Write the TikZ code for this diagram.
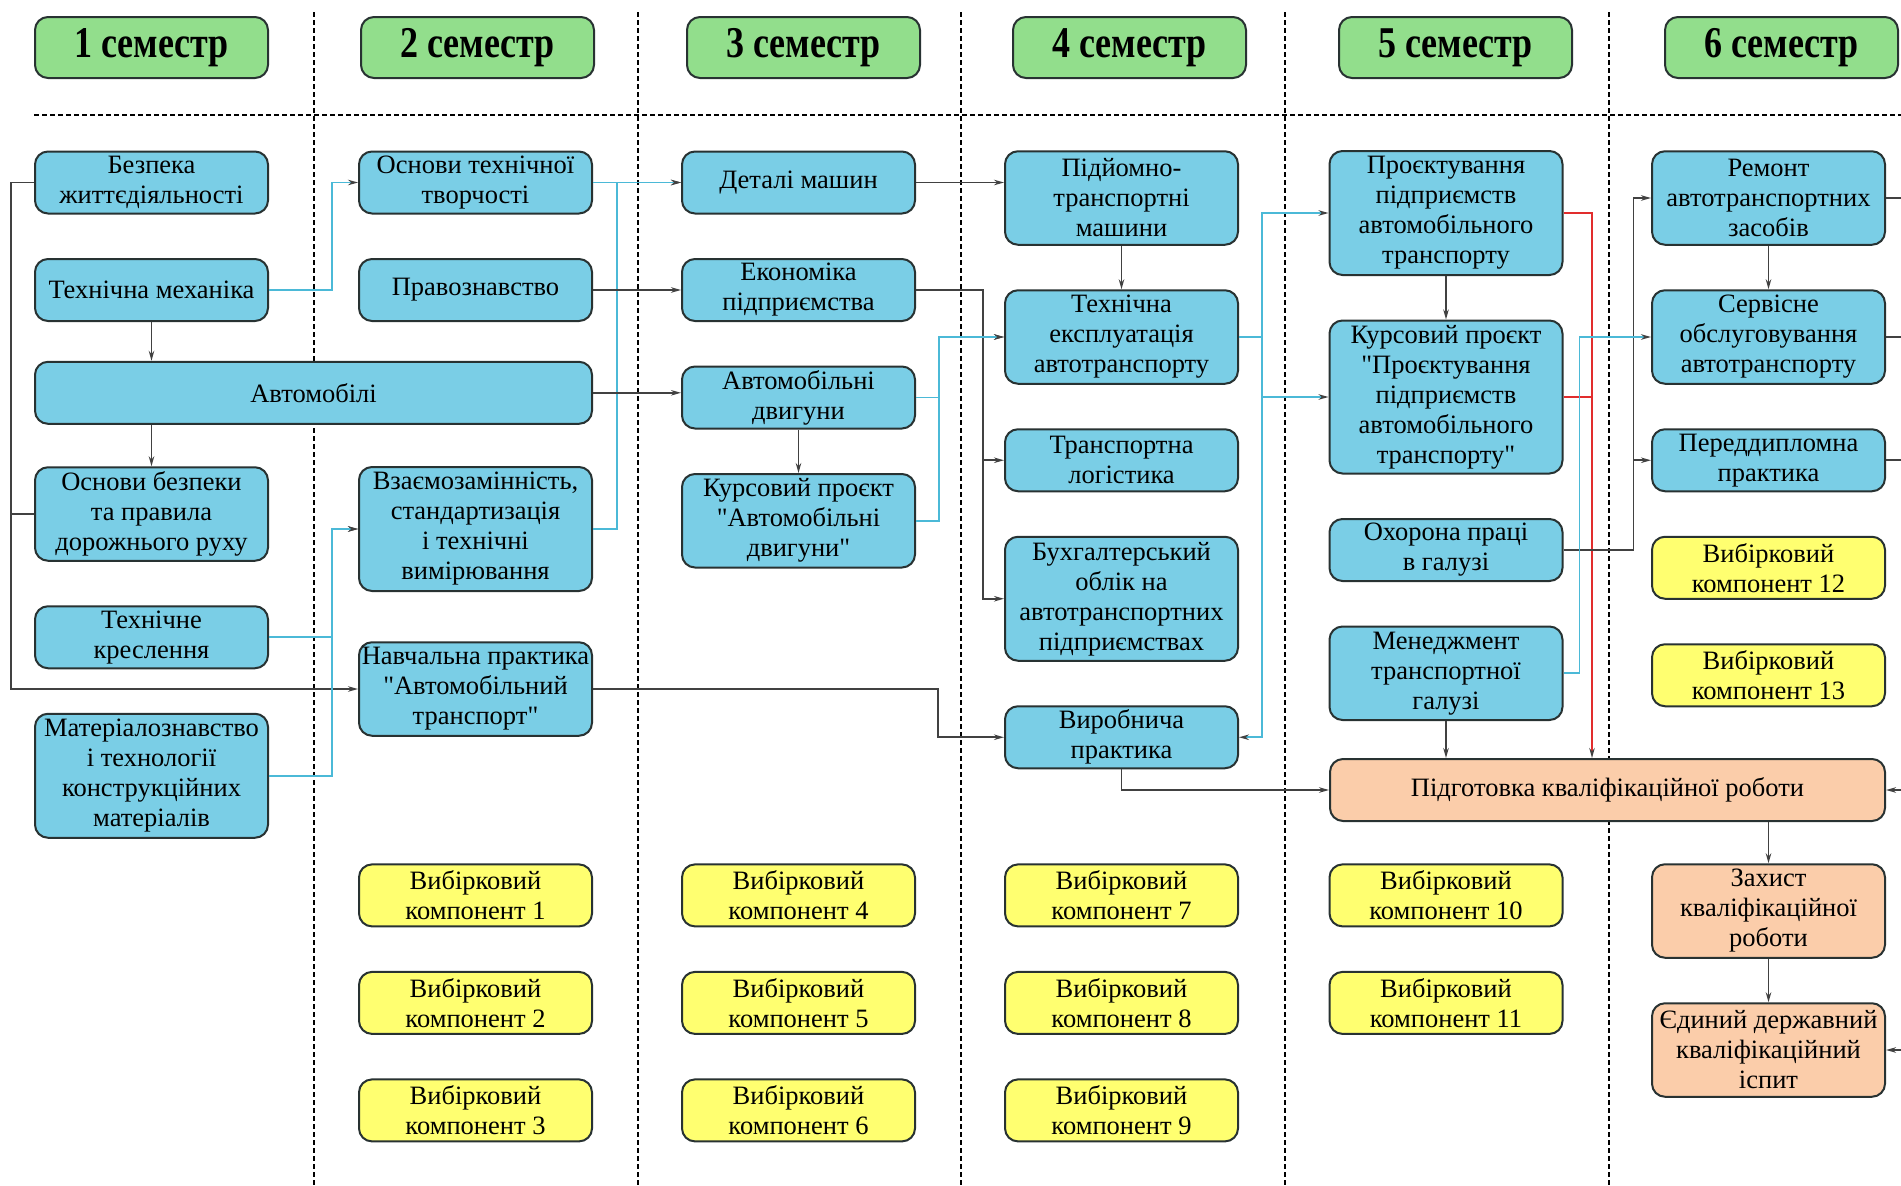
\documentclass[tikz,border=0pt]{standalone}
\usepackage{fontspec}
\setmainfont{Liberation Serif}[Ligatures=TeXOff]
\usepackage{graphicx}
\usetikzlibrary{arrows.meta,positioning}

\definecolor{subjblue}{RGB}{122,206,230}
\definecolor{semgreen}{RGB}{146,222,140}
\definecolor{electyellow}{RGB}{255,255,112}
\definecolor{finalorange}{RGB}{251,205,170}
\definecolor{boxline}{RGB}{40,50,50}
\definecolor{linkgray}{RGB}{65,65,65}
\definecolor{linkcyan}{RGB}{75,185,215}
\definecolor{linkred}{RGB}{225,45,45}

\newcommand{\semhead}[1]{\scalebox{1}[1.22]{#1 семестр}}

\begin{document}
\begin{tikzpicture}[
          x=1pt, y=-1pt,
          >={Stealth[length=10pt,width=5.5pt]},
          node distance=43.5pt and 91pt,
          box/.style={rounded corners=13pt, draw=boxline, line width=2pt,
            minimum width=233pt, minimum height=62pt, inner xsep=1pt, inner ysep=3pt,
            align=center, text=black, font=\fontsize{26.5}{30}\selectfont},
          subj/.style={box, fill=subjblue},
          elect/.style={box, fill=electyellow},
          final/.style={box, fill=finalorange},
          sem/.style={box, fill=semgreen, minimum height=61pt,
            font=\fontsize{36}{40}\selectfont\bfseries},
          tall3/.style={minimum height=93.5pt},
          tall4/.style={minimum height=124pt},
          tall5/.style={minimum height=153pt},
          wide/.style={minimum width=557pt},
          divider/.style={line width=2.4pt, dash pattern=on 5pt off 3pt},
          plainline/.style={draw=linkgray, line width=1.6pt},
          link/.style={plainline, ->},
          cyanlink/.style={draw=linkcyan, line width=1.6pt, ->,
            >={Stealth[length=10pt,width=5.5pt,color=linkgray]}},
          redline/.style={draw=linkred, line width=1.4pt},
          redlink/.style={redline, ->,
            >={Stealth[length=10pt,width=5.5pt,color=linkgray]}}
        ]

        \path[use as bounding box, fill=white] (0,0) rectangle (1901,1186);

        % Dividers between semesters
        \draw[divider] (34,115) -- (1901,115);
        \draw[divider] (314,12) -- (314,1186);
        \draw[divider] (638,12) -- (638,1186);
        \draw[divider] (961,12) -- (961,1186);
        \draw[divider] (1285,12) -- (1285,1186);
        \draw[divider] (1609,12) -- (1609,1186);

        % Semester headers
        \node[sem] (s1) at (151.5,47.5) {\semhead{1}};
        \node[sem, right=of s1] (s2) {\semhead{2}};
        \node[sem, right=of s2] (s3) {\semhead{3}};
        \node[sem, right=of s3] (s4) {\semhead{4}};
        \node[sem, right=of s4] (s5) {\semhead{5}};
        \node[sem, right=of s5] (s6) {\semhead{6}};

        % Semester 1
        \node[subj] (bzh) at (151.5,182.5) {Безпека\\життєдіяльності};
        \node[subj, below=of bzh] (tmech) {Технічна механіка};
        \node[subj, wide] (avto) at (313.5,392.8) {Автомобілі};
        \node[subj, tall3] (obdr) at (151.5,514) {Основи безпеки\\та правила\\дорожнього руху};
        \node[subj, below=of obdr] (tkres) {Технічне\\креслення};
        \node[subj, tall4, below=of tkres] (mater) {Матеріалознавство\\і технології\\конструкційних\\матеріалів};

        % Semester 2
        \node[subj] (otv) at (475.5,182.5) {Основи технічної\\творчості};
        \node[subj, below=of otv] (pravo) {Правознавство};
        \node[subj, tall4] (vzaem) at (475.5,529) {Взаємозамінність,\\стандартизація\\і технічні\\вимірювання};
        \node[subj, tall3] (navch) at (475.5,689) {Навчальна практика\\"Автомобільний\\транспорт"};
        \node[elect] (vk1) at (475.5,895.4) {Вибірковий\\компонент 1};
        \node[elect, below=of vk1] (vk2) {Вибірковий\\компонент 2};
        \node[elect, below=of vk2] (vk3) {Вибірковий\\компонент 3};

        % Semester 3
        \node[subj] (detal) at (798.5,182.5) {Деталі машин};
        \node[subj, below=of detal] (ekon) {Економіка\\підприємства};
        \node[subj, below=of ekon] (avdv) {Автомобільні\\двигуни};
        \node[subj, tall3, below=of avdv] (kpdv) {Курсовий проєкт\\"Автомобільні\\двигуни"};
        \node[elect] (vk4) at (798.5,895.4) {Вибірковий\\компонент 4};
        \node[elect, below=of vk4] (vk5) {Вибірковий\\компонент 5};
        \node[elect, below=of vk5] (vk6) {Вибірковий\\компонент 6};

        % Semester 4
        \node[subj, tall3] (ptm) at (1121.5,198) {Підйомно-\\транспортні\\машини};
        \node[subj, tall3, below=of ptm] (tea) {Технічна\\експлуатація\\автотранспорту};
        \node[subj, below=of tea] (tlog) {Транспортна\\логістика};
        \node[subj, tall4, below=of tlog] (buh) {Бухгалтерський\\облік на\\автотранспортних\\підприємствах};
        \node[subj, below=of buh] (vyrob) {Виробнича\\практика};
        \node[elect] (vk7) at (1121.5,895.4) {Вибірковий\\компонент 7};
        \node[elect, below=of vk7] (vk8) {Вибірковий\\компонент 8};
        \node[elect, below=of vk8] (vk9) {Вибірковий\\компонент 9};

        % Semester 5
        \node[subj, tall4] (ppat) at (1446,213) {Проєктування\\підприємств\\автомобільного\\транспорту};
        \node[subj, tall5, below=of ppat] (kpat) {Курсовий проєкт\\"Проєктування\\підприємств\\автомобільного\\транспорту"};
        \node[subj, below=of kpat] (ohor) {Охорона праці\\в галузі};
        \node[subj, tall3, below=of ohor] (menedzh) {Менеджмент\\транспортної\\галузі};
        \node[final, minimum width=555pt] (pkr) at (1607.5,790) {Підготовка кваліфікаційної роботи};
        \node[elect] (vk10) at (1446,895.4) {Вибірковий\\компонент 10};
        \node[elect, below=of vk10] (vk11) {Вибірковий\\компонент 11};

        % Semester 6
        \node[subj, tall3] (remont) at (1768.5,198) {Ремонт\\автотранспортних\\засобів};
        \node[subj, tall3, below=of remont] (servis) {Сервісне\\обслуговування\\автотранспорту};
        \node[subj, below=of servis] (pdp) {Переддипломна\\практика};
        \node[elect, below=of pdp] (vk12) {Вибірковий\\компонент 12};
        \node[elect, below=of vk12] (vk13) {Вибірковий\\компонент 13};
        \node[final, tall3] (zahyst) at (1768.5,911) {Захист\\кваліфікаційної\\роботи};
        \node[final, tall3, below=of zahyst] (edki) {Єдиний державний\\кваліфікаційний\\іспит};

        % Links from semester 1
        \draw[link] (bzh.west) -- ++(-23,0) |- (navch.west);
        \draw[plainline] (obdr.west) -- ++(-23,0);
        \draw[link] (tmech) -- (tmech |- avto.north);
        \draw[link] (obdr |- avto.south) -- (obdr);
        \draw[cyanlink] (tmech.east) -- ++(63,0) |- (otv.west);
        \draw[cyanlink] (tkres.east) -- ++(63,0) |- (vzaem.west);
        \draw[cyanlink] (mater.east) -- ++(63,0) |- (vzaem.west);

        % Links from semester 2
        \draw[cyanlink] (otv) -- (detal);
        \draw[cyanlink] (vzaem.east) -- ++(24,0) |- (detal.west);
        \draw[link] (pravo) -- (ekon);
        \draw[link] (avto.east) -- (avto.east -| avdv.west);
        \draw[link] (navch.east) -- ++(345,0) |- (vyrob.west);

        % Links from semester 3
        \draw[link] (detal.east) -- (detal.east -| ptm.west);
        \draw[link] (ekon.east) -- ++(67,0) |- (tlog.west);
        \draw[link] (ekon.east) -- ++(67,0) |- (buh.west);
        \draw[link] (avdv) -- (kpdv);
        \draw[cyanlink] (avdv.east) -- ++(23,0) |- (tea.west);
        \draw[cyanlink] (kpdv.east) -- ++(23,0) |- (tea.west);

        % Links from semester 4
        \draw[link] (ptm) -- (tea);
        \draw[cyanlink] (tea.east) -- ++(23,0) |- (ppat.west);
        \draw[cyanlink] (tea.east) -- ++(23,0) |- (kpat.west);
        \draw[cyanlink] (tea.east) -- ++(23,0) |- (vyrob.east);
        \draw[link] (vyrob) |- (pkr);

        % Links from semester 5
        \draw[link] (ppat) -- (kpat);
        \draw[link] (menedzh) -- (menedzh |- pkr.north);
        \draw[redlink] (ppat.east) -| ([xshift=-15.5pt]pkr.north);
        \draw[redline] (kpat.east) -- ++(29.5,0);
        \draw[link] (ohor.east) -- ++(70,0) |- (remont.west);
        \draw[link] (ohor.east) -- ++(70,0) |- (pdp.west);
        \draw[cyanlink] (menedzh.east) -- ++(16,0) |- (servis.west);

        % Links in semester 6
        \coordinate (redge) at (1901,0);
        \draw[link] (remont) -- (servis);
        \draw[link] (pkr.south -| zahyst) -- (zahyst);
        \draw[link] (zahyst) -- (edki);
        \draw[plainline] (remont.east) -- (remont.east -| redge);
        \draw[plainline] (servis.east) -- (servis.east -| redge);
        \draw[plainline] (pdp.east) -- (pdp.east -| redge);
        \draw[link] (pkr.east -| redge) -- (pkr.east);
        \draw[link] (edki.east -| redge) -- (edki.east);

      \end{tikzpicture}
\end{document}
